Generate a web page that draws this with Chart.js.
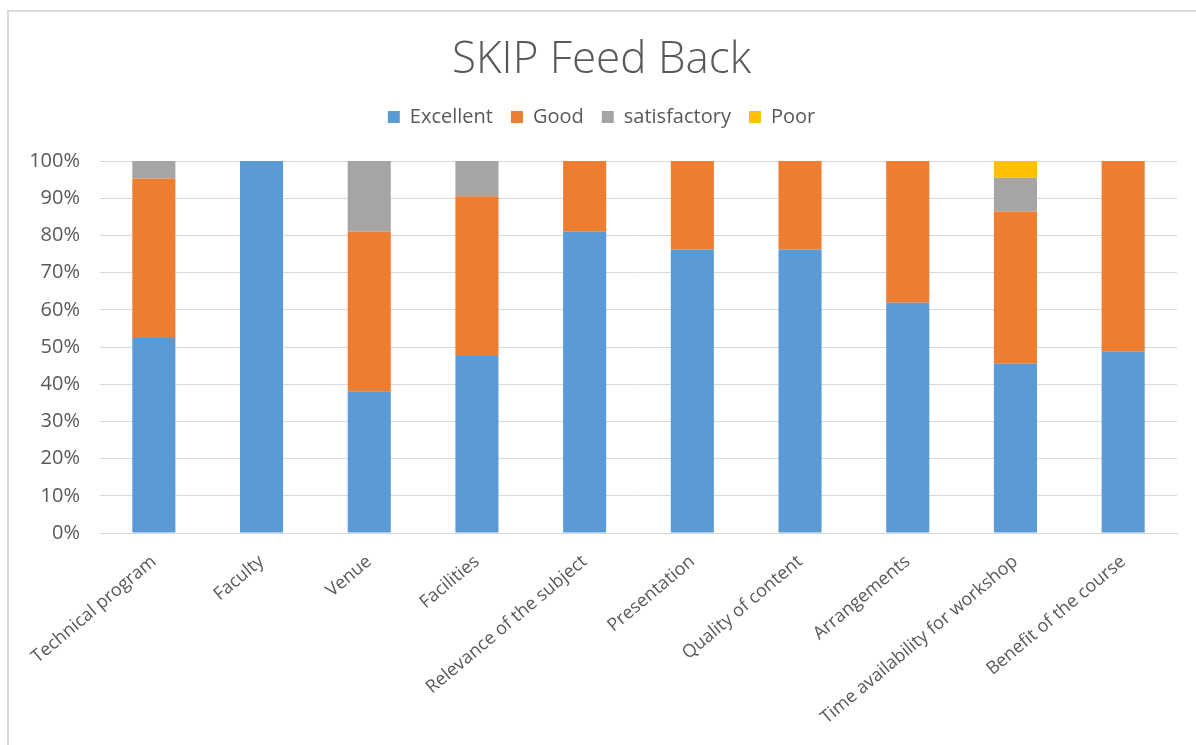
<!DOCTYPE html>
<html>
<head>
<meta charset="utf-8">
<script src="https://cdn.jsdelivr.net/npm/chart.js@4.4.1/dist/chart.umd.min.js"></script>
<style>
  html, body { margin: 0; padding: 0; background: #ffffff; }
  #frame { position: absolute; left: 7px; top: 10px; width: 1189px; height: 735px;
           border-top: 2px solid #d9d9d9; border-left: 2px solid #d9d9d9; box-sizing: border-box; }
  #wrap { position: absolute; left: 0; top: 0; width: 1196px; height: 745px; }
</style>
</head>
<body>
<div id="frame"></div>
<div id="wrap"><canvas id="c" width="1196" height="745"></canvas></div>
<script>
const categories = ["Technical program", "Faculty", "Venue", "Facilities", "Relevance of the subject",
  "Presentation", "Quality of content", "Arrangements", "Time availability for workshop", "Benefit of the course"];
const excellent    = [52.4, 100, 38.1, 47.6, 81.0, 76.2, 76.2, 61.9, 45.5, 48.7];
const good         = [42.9,   0, 42.9, 42.9, 19.0, 23.8, 23.8, 38.1, 40.9, 51.3];
const satisfactory = [ 4.8,   0, 19.0,  9.5,    0,    0,    0,    0,  9.1,    0];
const poor         = [   0,   0,    0,    0,    0,    0,    0,    0,  4.5,    0];
const yTicks = [0, 10, 20, 30, 40, 50, 60, 70, 80, 90, 100];

const FONT = "'Open Sans', 'Noto Sans', sans-serif";
const TXT = '#595959';

function ds(label, data, color) {
  return { label, data, backgroundColor: color, borderWidth: 0,
           categoryPercentage: 1.0, barPercentage: 0.4 };
}

new Chart(document.getElementById('c'), {
  type: 'bar',
  data: {
    labels: categories,
    datasets: [
      ds('Excellent', excellent, '#5B9BD5'),
      ds('Good', good, '#ED7D31'),
      ds('satisfactory', satisfactory, '#A5A5A5'),
      ds('Poor', poor, '#FFC000')
    ]
  },
  options: {
    responsive: false,
    animation: false,
    layout: { padding: { left: 26, right: 19, top: 0, bottom: 0 } },
    plugins: {
      title: {
        display: true, text: 'SKIP Feed Back', color: TXT,
        font: { family: FONT, size: 44, weight: 300, lineHeight: 1.0 },
        padding: { top: 38, bottom: 7 }
      },
      subtitle: {
        display: true, text: ' ', weight: 500,
        font: { family: FONT, size: 20, lineHeight: 1.2 },
        padding: 0
      },
      legend: {
        display: true, position: 'top',
        labels: {
          color: TXT, boxWidth: 12, boxHeight: 12, padding: 18,
          font: { family: FONT, size: 20 }
        }
      },
      tooltip: { enabled: false }
    },
    scales: {
      x: {
        stacked: true,
        grid: { display: false },
        border: { display: true, color: '#d9d9d9', width: 1 },
        ticks: { color: TXT, font: { family: FONT, size: 18 }, maxRotation: 40, minRotation: 40,
                 padding: 10, autoSkip: false },
        afterFit: (s) => { s.height = 212; }
      },
      y: {
        stacked: true, min: 0, max: 100,
        afterBuildTicks: (s) => { s.ticks = yTicks.map(v => ({ value: v })); },
        grid: { color: '#d9d9d9', drawTicks: false },
        border: { display: false },
        ticks: { color: TXT, font: { family: FONT, size: 20 }, padding: 20, callback: (v) => v + '%' },
        afterFit: (s) => { s.width = 74; }
      }
    }
  }
});
</script>
</body>
</html>
